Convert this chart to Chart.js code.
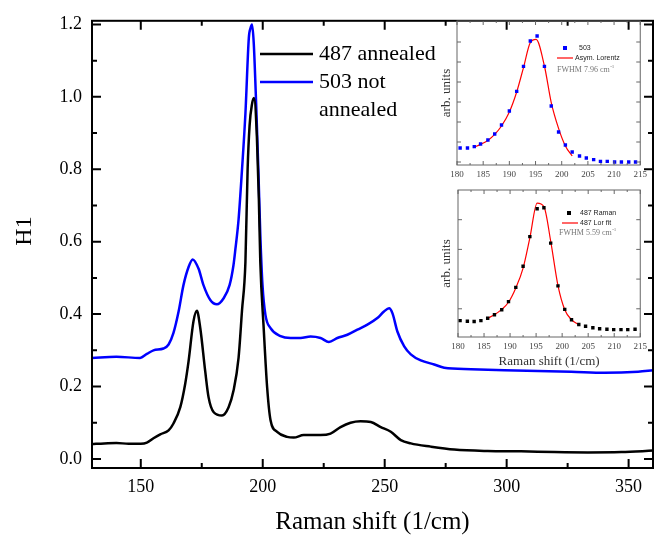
<!DOCTYPE html>
<html>
<head>
<meta charset="utf-8">
<script src="https://cdn.jsdelivr.net/npm/chart.js@4.4.1/dist/chart.umd.min.js"></script>
<style>
  html, body { margin: 0; padding: 0; background: #fff; }
  #wrap { position: relative; width: 657px; height: 537px; }
  canvas { position: absolute; }
  #main { left: 0; top: 0; }
  #inset1 { left: 420px; top: 17px; }
  #inset2 { left: 420px; top: 186px; }
</style>
</head>
<body>
<div id="wrap">
  <canvas id="main" width="657" height="537"></canvas>
  <canvas id="inset1" width="231" height="170"></canvas>
  <canvas id="inset2" width="231" height="182"></canvas>
</div>
<script>
// ---------- Main plot data ----------
const annealedX = [130, 135, 140, 145, 150, 152.5, 155.2, 158, 161.4, 163.4, 166.2, 168.2, 169.6, 171.6, 173.0, 174.4, 176.4, 177.8, 179.9, 183.3,
  186.0, 188.0, 190.1, 191.5, 192.9, 193.8, 194.6, 195.6, 196.4, 197.6, 198.4, 199.0, 200.4, 201.8, 203.2, 205.9, 210.0, 212.7, 216.8, 223.7,
  227.8, 231.9, 236.0, 240.1, 244.3, 248.4, 252.5, 256.6, 260.7, 268.9, 278.5, 292.2, 305.9, 319.6, 333.3, 347.0, 360.0];
const annealedY = [0.041, 0.043, 0.044, 0.042, 0.042, 0.045, 0.057, 0.068, 0.079, 0.098, 0.143, 0.207, 0.27, 0.38, 0.409, 0.361, 0.243, 0.17, 0.129, 0.12,
  0.143, 0.188, 0.28, 0.41, 0.544, 0.8, 0.92, 0.98, 0.997, 0.89, 0.72, 0.544, 0.36, 0.198, 0.107, 0.075, 0.061, 0.059, 0.066, 0.066,
  0.07, 0.088, 0.1, 0.104, 0.102, 0.088, 0.075, 0.052, 0.043, 0.034, 0.026, 0.022, 0.021, 0.019, 0.018, 0.019, 0.023];

const notAnnealedX = [130, 140, 149.7, 152.5, 155.2, 159.3, 161.4, 163.4, 165.5, 167.5, 169.6, 171.3, 173.7, 175.7, 178.5, 181.2, 183.9, 186.4, 188.0, 188.8,
  190.1, 191.5, 192.9, 194.3, 195.0, 195.6, 196.3, 197.3, 198.2, 199.0, 199.9, 201.1, 203.2, 207.3, 211.4, 215.5, 219.6, 223.7, 227.1, 230.6,
  234.7, 238.8, 242.9, 247.0, 249.7, 251.8, 253.2, 255.2, 258.0, 260.7, 264.8, 270.3, 274.4, 285.4, 299.1, 312.8, 326.5, 340.2, 353.9, 360];
const notAnnealedY = [0.279, 0.282, 0.279, 0.29, 0.30, 0.305, 0.316, 0.348, 0.407, 0.48, 0.53, 0.551, 0.525, 0.48, 0.439, 0.427, 0.443, 0.48, 0.535, 0.58,
  0.662, 0.799, 0.954, 1.163, 1.19, 1.2, 1.15, 0.98, 0.8, 0.62, 0.48, 0.398, 0.361, 0.339, 0.334, 0.334, 0.338, 0.334, 0.323, 0.334,
  0.343, 0.357, 0.371, 0.389, 0.407, 0.416, 0.402, 0.352, 0.311, 0.289, 0.272, 0.261, 0.252, 0.248, 0.245, 0.243, 0.241, 0.238, 0.241, 0.245];

const mainXTicks = [150, 200, 250, 300, 350];
const mainYTicks = [0, 0.2, 0.4, 0.6, 0.8, 1.0, 1.2];

// ---------- Inset data ----------
const raman503X = [180.6, 182.0, 183.3, 184.5, 185.9, 187.2, 188.5, 190.0, 191.4, 192.7, 194.0, 195.3, 196.7, 198.0, 199.4, 200.7, 202.0,
  203.4, 204.7, 206.1, 207.4, 208.7, 210.1, 211.4, 212.8, 214.1];
const raman503Y = [0.70, 0.70, 0.77, 0.90, 1.10, 1.40, 1.85, 2.55, 3.53, 4.78, 6.05, 6.30, 4.78, 2.80, 1.50, 0.85, 0.50,
  0.30, 0.20, 0.12, 0.03, 0.03, 0, 0, 0, 0];
const fit503X = [183.1, 184.5, 185.9, 187.2, 188.5, 190.0, 191.4, 192.7, 194.0, 195.1, 196.7, 198.0, 199.4, 200.7, 202.0];
const fit503Y = [0.72, 0.88, 1.08, 1.38, 1.80, 2.50, 3.50, 4.72, 5.97, 6.13, 4.80, 2.97, 1.68, 0.80, 0.30];

const raman487X = [180.4, 181.8, 183.1, 184.4, 185.7, 187.0, 188.4, 189.7, 191.1, 192.5, 193.8, 195.2, 196.5, 197.8, 199.2, 200.5, 201.8,
  203.2, 204.5, 205.9, 207.2, 208.6, 209.9, 211.3, 212.6, 214.0];
const raman487Y = [0.60, 0.58, 0.57, 0.60, 0.68, 0.80, 0.97, 1.24, 1.72, 2.43, 3.43, 4.37, 4.40, 3.21, 1.77, 0.98, 0.63,
  0.47, 0.41, 0.36, 0.33, 0.31, 0.30, 0.30, 0.30, 0.31];
const fit487X = [185.7, 187.0, 188.4, 189.7, 191.1, 192.5, 193.8, 195.2, 196.5, 197.8, 199.2, 200.5, 201.8, 203.2];
const fit487Y = [0.68, 0.80, 0.98, 1.22, 1.70, 2.37, 3.39, 4.56, 4.44, 3.28, 1.78, 0.97, 0.63, 0.47];

const insetXTicks = [180, 185, 190, 195, 200, 205, 210, 215];
const inset1YTicks = [0, 1, 2, 3, 4, 5, 6];
const inset2YTicks = [1, 2, 3, 4];

const SERIF = '"Liberation Serif", "DejaVu Serif", serif';
const SANS = '"Liberation Sans", Arial, sans-serif';

function pts(xs, ys) {
  return xs.map((x, i) => ({ x: x, y: ys[i] }));
}

// midpoints between major ticks -> minor ticks
function minors(major) {
  const out = [];
  for (let i = 0; i < major.length - 1; i++) out.push((major[i] + major[i + 1]) / 2);
  return out;
}

// ---------- box with inward ticks on all four sides ----------
function framePlugin(cfg) {
  return {
    id: 'frame',
    afterDatasetsDraw(chart) {
      const { ctx, chartArea: a, scales } = chart;
      ctx.save();
      ctx.strokeStyle = cfg.color;
      ctx.lineWidth = cfg.width;
      ctx.beginPath();
      const xt = cfg.xMajor.map(v => [v, cfg.major]).concat(cfg.xMinor.map(v => [v, cfg.minor]));
      xt.forEach(([v, len]) => {
        const px = scales.x.getPixelForValue(v);
        if (px < a.left || px > a.right) return;
        ctx.moveTo(px, a.bottom); ctx.lineTo(px, a.bottom - len);
        ctx.moveTo(px, a.top); ctx.lineTo(px, a.top + len);
      });
      const yt = cfg.yMajor.map(v => [v, cfg.major]).concat(cfg.yMinor.map(v => [v, cfg.minor]));
      yt.forEach(([v, len]) => {
        const py = scales.y.getPixelForValue(v);
        if (py < a.top || py > a.bottom) return;
        ctx.moveTo(a.left, py); ctx.lineTo(a.left + len, py);
        ctx.moveTo(a.right, py); ctx.lineTo(a.right - len, py);
      });
      ctx.stroke();
      ctx.strokeRect(a.left, a.top, a.right - a.left, a.bottom - a.top);
      ctx.restore();
    }
  };
}

// ---------- main legend + y title ----------
const mainDecor = {
  id: 'mainDecor',
  afterDraw(chart) {
    const ctx = chart.ctx;
    ctx.save();
    ctx.lineWidth = 2.5;
    ctx.strokeStyle = '#000';
    ctx.beginPath(); ctx.moveTo(260, 54); ctx.lineTo(313, 54); ctx.stroke();
    ctx.strokeStyle = '#0000ff';
    ctx.beginPath(); ctx.moveTo(260, 82); ctx.lineTo(313, 82); ctx.stroke();
    ctx.fillStyle = '#000';
    ctx.font = '22px ' + SERIF;
    ctx.textBaseline = 'middle';
    ctx.fillText('487 annealed', 319, 54);
    ctx.fillText('503 not', 319, 82);
    ctx.fillText('annealed', 319, 110);
    // y axis title
    ctx.translate(25, 231);
    ctx.rotate(-Math.PI / 2);
    ctx.textAlign = 'center';
    ctx.font = '24px ' + SERIF;
    ctx.fillText('H1', 0, 0);
    ctx.restore();
  }
};

new Chart(document.getElementById('main'), {
  type: 'line',
  data: {
    datasets: [
      { label: '487 annealed', data: pts(annealedX, annealedY), borderColor: '#000', borderWidth: 2.5,
        pointRadius: 0, cubicInterpolationMode: 'monotone' },
      { label: '503 not annealed', data: pts(notAnnealedX, notAnnealedY), borderColor: '#0000ff', borderWidth: 2.5,
        pointRadius: 0, cubicInterpolationMode: 'monotone' }
    ]
  },
  options: {
    responsive: false,
    animation: false,
    layout: { padding: { top: 16, right: 4, left: 0, bottom: 0 } },
    plugins: { legend: { display: false }, tooltip: { enabled: false } },
    scales: {
      x: {
        type: 'linear', min: 130, max: 360,
        afterBuildTicks: s => { s.ticks = mainXTicks.map(v => ({ value: v })); },
        afterFit: s => { s.height = 69; },
        grid: { display: false, drawTicks: false },
        border: { display: false },
        ticks: { font: { family: SERIF, size: 18 }, color: '#000', padding: 8, maxRotation: 0, callback: v => String(v) },
        title: { display: true, text: 'Raman shift (1/cm)', font: { family: SERIF, size: 25, lineHeight: 1.2 }, color: '#000', padding: 0 }
      },
      y: {
        type: 'linear', min: -0.025, max: 1.21,
        afterBuildTicks: s => { s.ticks = mainYTicks.map(v => ({ value: v })); },
        afterFit: s => { s.width = 92; },
        grid: { display: false, drawTicks: false },
        border: { display: false },
        ticks: { font: { family: SERIF, size: 18 }, color: '#000', padding: 10, callback: v => v.toFixed(1) }
      }
    }
  },
  plugins: [
    framePlugin({ color: '#000', width: 2, major: 9, minor: 5,
      xMajor: mainXTicks, xMinor: minors(mainXTicks), yMajor: mainYTicks, yMinor: minors(mainYTicks) }),
    mainDecor
  ]
});

// ---------- insets ----------
function insetLegend(lines) {
  return {
    id: 'insetLegend',
    afterDraw(chart) {
      const ctx = chart.ctx;
      ctx.save();
      ctx.textBaseline = 'middle';
      lines.forEach(l => {
        if (l.square) {
          ctx.fillStyle = l.square;
          ctx.fillRect(l.sx - 2, l.y - 2, 4, 4);
        }
        if (l.line) {
          ctx.strokeStyle = l.line;
          ctx.lineWidth = 1.2;
          ctx.beginPath(); ctx.moveTo(l.lx0, l.y); ctx.lineTo(l.lx1, l.y); ctx.stroke();
        }
        if (l.text) {
          ctx.fillStyle = '#222';
          ctx.font = '7px ' + SANS;
          ctx.fillText(l.text, l.tx, l.y);
        }
        if (l.fwhm) {
          ctx.fillStyle = '#777';
          ctx.font = '8px ' + SERIF;
          ctx.fillText(l.fwhm, l.tx, l.y);
          const w = ctx.measureText(l.fwhm).width;
          ctx.font = '5px ' + SERIF;
          ctx.fillText('-1', l.tx + w + 0.5, l.y - 3);
        }
      });
      ctx.restore();
    }
  };
}

function makeInset(id, cfg) {
  return new Chart(document.getElementById(id), {
    type: 'line',
    data: {
      datasets: [
        { label: cfg.pointsLabel, data: pts(cfg.px, cfg.py), showLine: false, pointStyle: 'rect',
          pointRadius: 2.4, pointBackgroundColor: cfg.pointColor, pointBorderWidth: 0, borderColor: cfg.pointColor },
        { label: cfg.fitLabel, data: pts(cfg.fx, cfg.fy), borderColor: '#ff0000', borderWidth: 1.2,
          pointRadius: 0, cubicInterpolationMode: 'monotone' }
      ]
    },
    options: {
      responsive: false,
      animation: false,
      layout: { padding: { top: cfg.padTop, right: 8, left: 0, bottom: 0 } },
      plugins: { legend: { display: false }, tooltip: { enabled: false } },
      scales: {
        x: {
          type: 'linear', min: 180, max: 215,
          afterBuildTicks: s => { s.ticks = insetXTicks.map(v => ({ value: v })); },
          afterFit: s => { s.height = cfg.xHeight; },
          grid: { display: false, drawTicks: false },
          border: { display: false },
          ticks: { font: { family: SERIF, size: 9 }, color: '#444', padding: 4, maxRotation: 0, callback: v => String(v) },
          title: { display: cfg.xTitle, text: 'Raman shift (1/cm)', font: { family: SERIF, size: 13, lineHeight: 1 }, color: '#333', padding: 0 }
        },
        y: {
          type: 'linear', min: cfg.ymin, max: cfg.ymax,
          afterBuildTicks: s => { s.ticks = cfg.yTicks.map(v => ({ value: v })); },
          afterFit: s => { s.width = cfg.yWidth; },
          grid: { display: false, drawTicks: false },
          border: { display: false },
          ticks: { display: false },
          title: { display: true, text: 'arb. units', font: { family: SERIF, size: 13, lineHeight: 1.2 }, color: '#333', padding: { top: 19 } }
        }
      }
    },
    plugins: [
      framePlugin({ color: '#666', width: 1, major: 4, minor: 2,
        xMajor: insetXTicks, xMinor: minors(insetXTicks), yMajor: cfg.yTicks, yMinor: [] }),
      insetLegend(cfg.legend)
    ]
  });
}

makeInset('inset1', {
  px: raman503X, py: raman503Y, fx: fit503X, fy: fit503Y,
  pointsLabel: '503', fitLabel: 'Asym. Lorentz', pointColor: '#0000ff',
  ymin: -0.15, ymax: 7.05, yTicks: inset1YTicks,
  padTop: 3, xHeight: 22, yWidth: 37, xTitle: false,
  legend: [
    { square: '#0000ff', sx: 145, y: 31, text: '503', tx: 159 },
    { line: '#ff0000', lx0: 137, lx1: 153, y: 41, text: 'Asym. Lorentz', tx: 155 },
    { fwhm: 'FWHM 7.96 cm', tx: 137, y: 53 }
  ]
});

makeInset('inset2', {
  px: raman487X, py: raman487Y, fx: fit487X, fy: fit487Y,
  pointsLabel: '487 Raman', fitLabel: '487 Lor fit', pointColor: '#000',
  ymin: 0.05, ymax: 5.0, yTicks: inset2YTicks,
  padTop: 2, xHeight: 31, yWidth: 38, xTitle: true,
  legend: [
    { square: '#000', sx: 149, y: 27, text: '487 Raman', tx: 160 },
    { line: '#ff0000', lx0: 142, lx1: 158, y: 37, text: '487 Lor fit', tx: 160 },
    { fwhm: 'FWHM 5.59 cm', tx: 139, y: 47 }
  ]
});
</script>
</body>
</html>
